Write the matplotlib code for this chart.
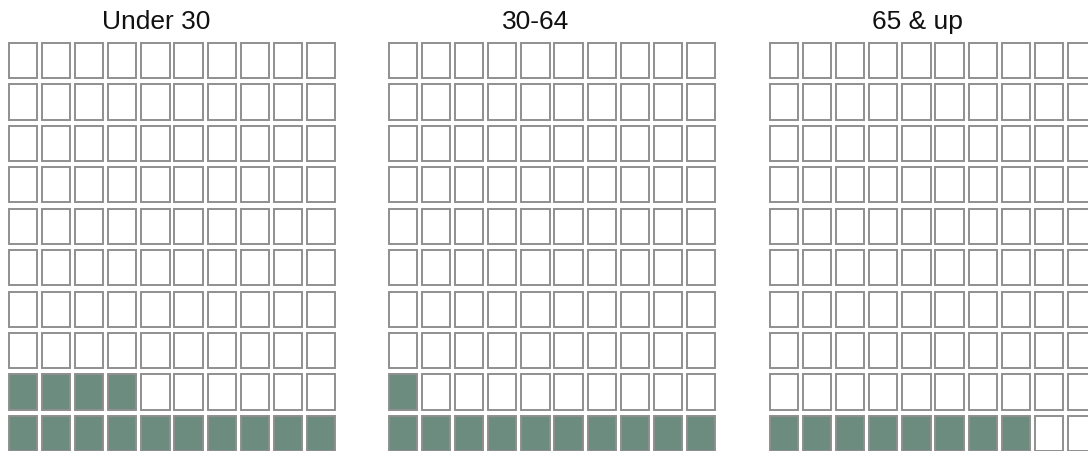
import matplotlib.pyplot as plt
from matplotlib.patches import Rectangle

plt.rcParams['font.family'] = ['Liberation Sans', 'DejaVu Sans']

groups = ['Under 30', '30-64', '65 & up']
filled = [14, 11, 8]
n_rows = 10
n_cols = 10

fill_color = '#6b8c7e'
empty_color = '#ffffff'
edge_color = '#8f8f8f'

W, H = 1088, 452
fig = plt.figure(figsize=(W / 100, H / 100), dpi=100)

cell = 0.85
span = n_cols - 1 + cell
panel_left = [9, 389, 770]
panel_w = 326
top, bottom = 44, 452

for k, (name, nf) in enumerate(zip(groups, filled)):
    ax = fig.add_axes([panel_left[k] / W, (H - bottom) / H, panel_w / W, (bottom - top) / H])
    ax.set_xlim(0, span)
    ax.set_ylim(0, span)
    ax.axis('off')
    # fill from bottom row, left to right
    for idx in range(n_rows * n_cols):
        r = idx // n_cols
        c = idx % n_cols
        color = fill_color if idx < nf else empty_color
        ax.add_patch(Rectangle((c, r), cell, cell, facecolor=color,
                               edgecolor=edge_color, linewidth=1.4, clip_on=False))
    fig.text((panel_left[k] + 147) / W, 1 - 22 / H, name, ha='center', va='center',
             fontsize=19, color='#111111')

fig.savefig('out.png', dpi=100)
